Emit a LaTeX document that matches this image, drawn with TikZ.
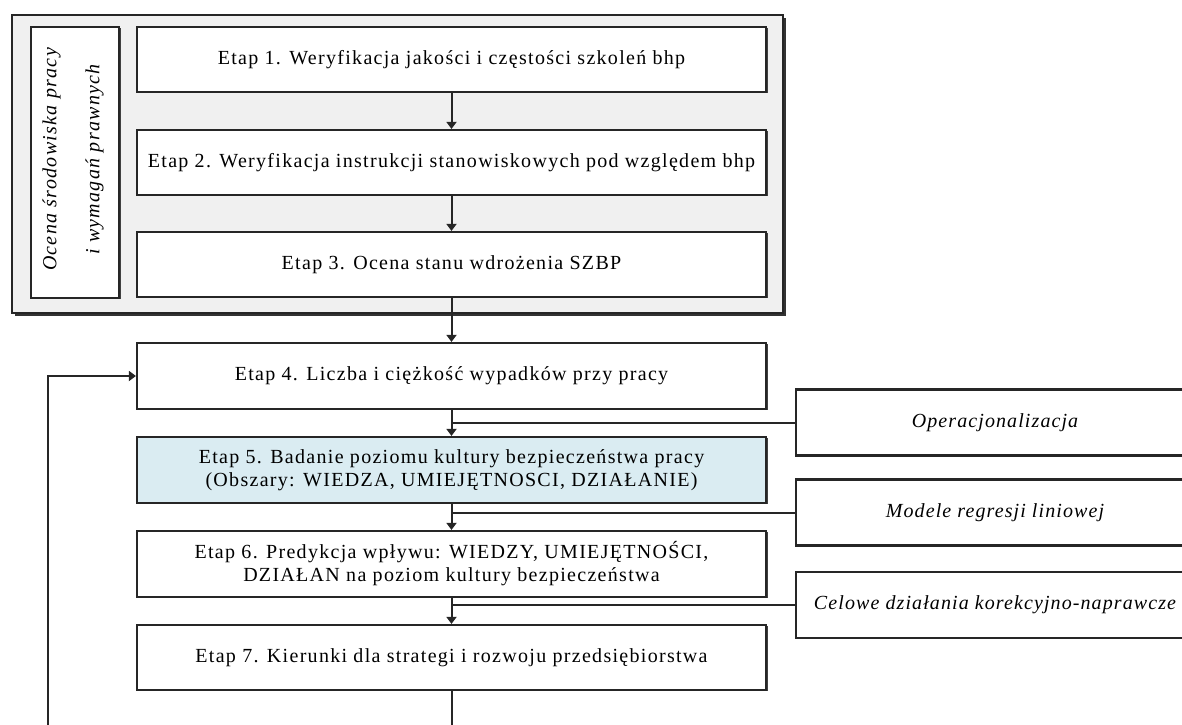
\documentclass[tikz,border=0pt]{standalone}
\usepackage{fontspec}
\setmainfont{Liberation Serif}[LetterSpace=6.5]
\newfontfamily\sideit{Liberation Serif}[LetterSpace=5.5]
\usetikzlibrary{arrows.meta,shadows}
\definecolor{outerfill}{RGB}{240,240,240}
\definecolor{bluefill}{RGB}{218,236,242}
\begin{document}
\begin{tikzpicture}[x=1pt,y=-1pt,
  shad/.style={drop shadow={shadow xshift=1.8pt,shadow yshift=-1.2pt,opacity=1,fill=black!75}},
  box/.style={draw=black!85,line width=2.2pt,fill=white,shad,inner sep=0pt,align=center,
    font=\fontsize{20}{23}\selectfont},
  stagebox/.style={box,minimum width=629pt,minimum height=65pt},
  sidebox/.style={box,minimum width=398pt,minimum height=66pt,font=\fontsize{20}{23}\sideit\itshape},
  conn/.style={line width=2pt,draw=black!85},
  arr/.style={conn,-{Triangle[length=7pt,width=10pt]}}
]
\useasboundingbox (0,0) rectangle (1182,724);
\clip (0,0) rectangle (1182,724);
% outer group
\node[draw=black!85,line width=2.2pt,fill=outerfill,
  drop shadow={shadow xshift=3pt,shadow yshift=-3pt,opacity=1,fill=black!80},
  minimum width=771pt,minimum height=298pt,inner sep=0pt] (outer) at (397.5,164) {};
\node[box,minimum width=88pt,minimum height=271pt] (lab) at (75,162.5) {};
\node[rotate=90,align=center,inner sep=0pt,font=\fontsize{20}{43}\selectfont\itshape] (labtxt) at ([xshift=-2pt,yshift=3pt]lab.center)
  {Ocena środowiska pracy\\i wymagań prawnych};
\node[stagebox] (s1) at (451.5,59.5) {Etap 1. Weryfikacja jakości i częstości szkoleń bhp};
\node[stagebox] (s2) at (451.5,162.5) {Etap 2. Weryfikacja instrukcji stanowiskowych pod względem bhp};
\node[stagebox] (s3) at (451.5,264.5) {Etap 3. Ocena stanu wdrożenia SZBP};
\node[stagebox,minimum height=66pt] (s4) at (451.5,376) {Etap 4. Liczba i ciężkość wypadków przy pracy};
\node[stagebox,minimum height=66pt,fill=bluefill] (s5) at (451.5,470) {Etap 5. Badanie poziomu kultury bezpieczeństwa pracy\\(Obszary: WIEDZA, UMIEJĘTNOSCI, DZIAŁANIE)};
\node[stagebox,minimum height=66pt] (s6) at (451.5,564) {Etap 6. Predykcja wpływu: WIEDZY, UMIEJĘTNOŚCI,\\DZIAŁAN na poziom kultury bezpieczeństwa};
\node[stagebox] (s7) at (451.5,657.5) {Etap 7. Kierunki dla strategi i rozwoju przedsiębiorstwa};
% side boxes
\node[sidebox] (op) at (995,422.5) {Operacjonalizacja};
\node[sidebox] (mr) at (995,512.5) {Modele regresji liniowej};
\node[sidebox] (cd) at (995,605) {Celowe działania korekcyjno-naprawcze};
% arrows
\draw[arr] (s1) -- (s2);
\draw[arr] (s2) -- (s3);
\draw[arr] (s3) -- (s4);
\draw[arr] (s4) -- (s5);
\draw[arr] (s5) -- (s6);
\draw[arr] (s6) -- (s7);
\draw[conn] (op.west) -- (s4.south |- op.west);
\draw[conn] (mr.west) -- (s5.south |- mr.west);
\draw[conn] (cd.west) -- (s6.south |- cd.west);
\coordinate (bt) at (451.5,730);
\coordinate (fb) at (48,730);
\draw[conn] (s7) -- (bt);
\draw[arr] (fb) |- (s4.west);
\end{tikzpicture}
\end{document}
